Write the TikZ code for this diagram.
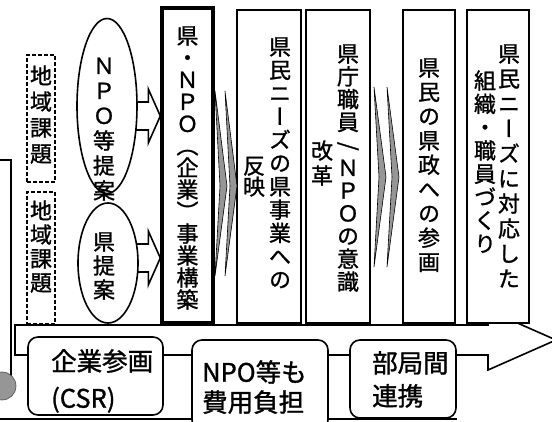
\documentclass[tikz,border=0pt]{standalone}
\usepackage{fontspec}
\usetikzlibrary{shapes.geometric}
\newfontfamily\jpfont[FakeBold=1.2]{Noto Sans CJK JP}
\newfontfamily\tatefont[FakeBold=1.2,RawFeature=+vert]{Noto Sans CJK JP}
\definecolor{white}{RGB}{255,255,255}
\definecolor{black}{RGB}{0,0,0}
\definecolor{chev_gray}{RGB}{150,150,150}
\definecolor{blob_gray}{RGB}{150,150,150}

% vertical writing: one character per line
\newcommand{\tatetext}[2][23.5pt]{\vbox{\baselineskip=#1\lineskiplimit=-100pt\lineskip=0pt\tatechar#2\relax}}
\def\tatechar#1{\ifx#1\relax\else\hbox to 0pt{\hss\rule{0pt}{0.85em}#1\hss}\expandafter\tatechar\fi}
\newcommand{\vslash}{\rotatebox[origin=c]{-90}{/}}
\newcommand{\nakaten}{{\jpfont ・}}

\begin{document}
\begin{tikzpicture}[x=1pt,y=-1pt,
	colbox/.style={rectangle,draw=black,line width=1.6pt,fill=white,minimum height=313,inner sep=0pt},
	mainbox/.style={colbox,line width=3.4pt,minimum height=315},
	dashbox/.style={rectangle,draw=black,line width=1.6pt,dash pattern=on 4pt off 2pt,minimum width=28,inner sep=0pt},
	teian/.style={ellipse,draw=black,line width=1.6pt,fill=white,minimum width=60,inner sep=0pt},
	tatenode/.style={anchor=north,inner sep=0pt,font=\tatefont\fontsize{22}{23}\selectfont},
	yokonode/.style={anchor=north west,inner sep=0pt,align=left},
	roundbox/.style={rectangle,rounded corners=10pt,draw=black,line width=1.6pt,fill=white,inner sep=0pt},
	blockarrow/.style={draw=black,line width=1.6pt,fill=white,line join=miter},
	flowarrow/.style={draw=black,line width=1.6pt,fill=white,line join=miter},
	chevron/.style={draw=black,line width=0.6pt,fill=chev_gray}]
	\clip (0,0) rectangle (552,422);
	
	% left edge
	\draw[line width=1.6pt] (0,160) -- (11,160) -- (11,378);
	\fill[blob_gray,draw=black!70,line width=0.6pt] (2,386) circle (14);
	\draw[line width=1.2pt] (0,419) -- (457,419);
	
	% flow along the bottom
	\draw[flowarrow] (15,325) -- (488,325) -- (488,310) -- (556,340) -- (488,370) -- (488,355) -- (15,355) -- cycle;
	
	\node[dashbox,minimum height=127] (kadai1) at (41,118.5) {};
	\node[dashbox,minimum height=132] (kadai2) at (41,258) {};
	\node[tatenode] (kadai1t) at (41,65) {\tatetext[26pt]{地域課題}};
	\node[tatenode] (kadai2t) at (41,200) {\tatetext[24pt]{地域課題}};
	
	\node[mainbox,minimum width=51] (b1) at (187.5,165.5) {};
	\coordinate (tip1) at (b1.west |- 0,116);
	\coordinate (tip2) at (b1.west |- 0,258);
	\foreach \t in {tip1,tip2}
		\draw[blockarrow] (\t) -- ++(-12,-27) -- ++(0,13) -- ++(-22,0) -- ++(0,28) -- ++(22,0) -- ++(0,13) -- cycle;
	\node[teian,minimum height=175] (npo) at (107,106) {};
	\node[teian,minimum height=120] (ken) at (108,263) {};
	\node[tatenode] (npot) at (104,55) {\tatetext[25pt]{ＮＰＯ等提案}};
	\node[tatenode] (kent) at (104,231) {\tatetext[24pt]{県提案}};
	
	\node[colbox,minimum width=64] (b2) at (269,166.5) {};
	\node[colbox,minimum width=64] (b3) at (338,166.5) {};
	\node[colbox,minimum width=52] (b4) at (429,166.5) {};
	\node[colbox,minimum width=62] (b5) at (498,166.5) {};
	
	\foreach \x/\t/\m/\b in {215/91/186/276,225/91/186/276,374/87/177/267,387/87/177/267}
		\draw[chevron] (\x,\t) -- (\x+12,\m) -- (\x,\b) -- (\x+5,\m) -- cycle;
	
	\node[tatenode] (b1t) at (187.5,25) {\tatetext[22pt]{県\nakaten ＮＰＯ（企業）事業構築}};
	\node[tatenode] (b2a) at (280,36) {\tatetext[23.3pt]{県民ニーズの県事業への}};
	\node[tatenode] (b2b) at (254,155) {\tatetext[21pt]{反映}};
	\node[tatenode] (b3a) at (348,43) {\tatetext[22.8pt]{県庁職員\vslash ＮＰＯの意識}};
	\node[tatenode] (b3b) at (322,140) {\tatetext[25pt]{改革}};
	\node[tatenode] (b4t) at (429,57) {\tatetext[24.3pt]{県民の県政への参画}};
	\node[tatenode] (b5a) at (509,43) {\tatetext[25pt]{県民ニーズに対応した}};
	\node[tatenode] (b5b) at (485,70) {\tatetext[23.3pt]{組織\nakaten 職員づくり}};
	
	\node[roundbox,minimum width=135,minimum height=78] (csr) at (95.5,376) {};
	\node[roundbox,minimum width=136,minimum height=90] (hiyo) at (260,385) {};
	\node[roundbox,minimum width=106,minimum height=78] (renkei) at (403,379) {};
	\node[yokonode,font=\jpfont\fontsize{25.5}{37}\selectfont] (csrt) at (51,349) {企業参画\\(CSR)};
	\node[yokonode,font=\jpfont\fontsize{25.5}{30}\selectfont] (hiyot) at (202,360) {NPO等も\\費用負担};
	\node[yokonode,font=\jpfont\fontsize{25.5}{33}\selectfont] (renkeit) at (372,351) {部局間\\連携};
\end{tikzpicture}
\end{document}
